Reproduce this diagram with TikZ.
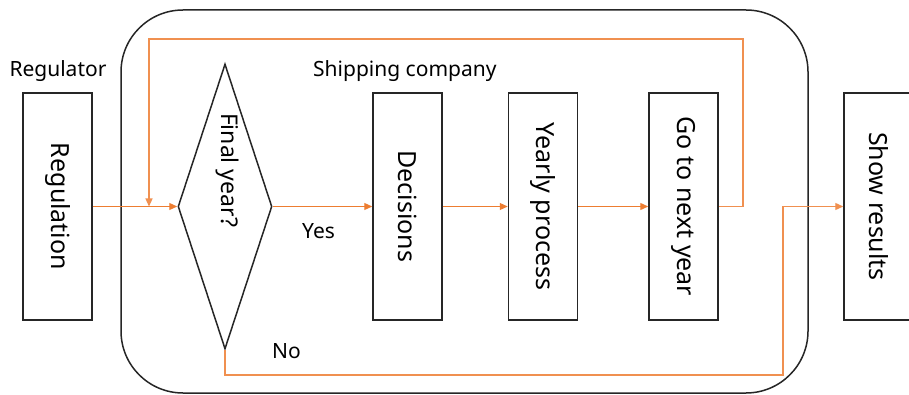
\documentclass[tikz,border=0pt]{standalone}
\usepackage{fontspec}
\setmainfont{Noto Sans}
\usetikzlibrary{arrows.meta,shapes.geometric}
\definecolor{flowc}{HTML}{ED7D31}

\tikzset{
  stage/.style={draw=black!85, line width=1.5pt, minimum width=69pt, minimum height=227pt, inner sep=0pt, font=\fontsize{25}{30}\selectfont},
  decision/.style={diamond, draw=black!85, line width=1.5pt, minimum width=94pt, minimum height=285pt, inner sep=0pt},
  flow/.style={draw=flowc, line width=1.2pt, -{Triangle[length=8pt,width=7pt]}},
  back/.style={draw=flowc!85, line width=1.2pt, -{Triangle[length=8pt,width=7pt]}},
  lbl/.style={font=\fontsize{21}{25}\selectfont, inner sep=0pt}
}

\begin{document}
\begin{tikzpicture}[x=1pt, y=-1pt, font=\fontsize{21}{25}\selectfont]
  \fill[white] (0,0) rectangle (909,395);
  \useasboundingbox (0,0) rectangle (909,395);
  \clip (0,0) rectangle (909,395);

  % Company frame
  \node[draw=black!85, line width=1.5pt, rounded corners=62pt, minimum width=687pt, minimum height=383pt, inner sep=0pt] (company) at (464.5,201.5) {};

  % Boxes
  \node[stage] (reg) at (57.5,206.5) {\rotatebox{-90}{Regulation}};
  \node[decision] (fin) at (225,206.5) {};
  \node[lbl, rotate=-90, font=\fontsize{23}{28}\selectfont] (fintext) at (227,170) {Final year?};
  \node[stage] (dec) at (407.5,206.5) {\rotatebox{-90}{Decisions}};
  \node[stage] (yp) at (543,206.5) {\rotatebox{-90}{Yearly process}};
  \node[stage] (next) at (683.5,206.5) {\rotatebox{-90}{Go to next year}};
  \node[stage] (show) at (878.5,206.5) {\rotatebox{-90}{Show results}};

  % Labels
  \node[lbl, anchor=base] (regulator) at (58,77) {Regulator};
  \node[lbl, anchor=base west] (shipping) at (313,77) {Shipping company};
  \node[lbl, anchor=base west] (yes) at (302,238) {Yes};
  \node[lbl, anchor=base west] (no) at (272,358) {No};

  % Main flow
  \draw[flow] (reg) -- (fin);
  \draw[flow] (fin) -- (dec);
  \draw[flow] (dec) -- (yp);
  \draw[flow] (yp) -- (next);

  % Loop back to next year
  \coordinate (top) at (743,39);
  \coordinate (merge) at (149,206.5);
  \draw[back] (next.east) -| (top) -| (merge);

  % Final year exit
  \coordinate (detour) at (783,375);
  \draw[back] (fin.south) |- (detour) |- (show.west);
\end{tikzpicture}
\end{document}
